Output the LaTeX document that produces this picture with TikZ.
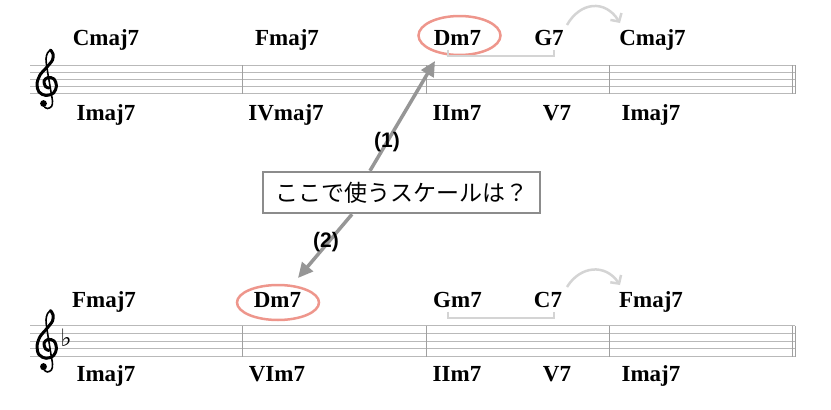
\documentclass[tikz,border=0pt]{standalone}
\usepackage{fontspec}
\setmainfont{Liberation Serif}
\newfontfamily\jpfont{Noto Sans CJK JP}
\newfontfamily\symfont{DejaVu Sans}
\newfontfamily\labfont{Liberation Sans}
\usetikzlibrary{arrows.meta,calc,shapes.geometric}
\definecolor{staffc}{RGB}{185,185,185}
\definecolor{barc}{RGB}{160,160,160}
\definecolor{arrc}{RGB}{150,150,150}
\definecolor{boxc}{RGB}{140,140,140}
\definecolor{ringc}{RGB}{238,150,140}
\definecolor{brc}{RGB}{212,212,212}
\begin{document}
\begin{tikzpicture}[x=1pt,y=-1pt,
  chord/.style={font=\fontsize{23}{23}\selectfont\bfseries, anchor=base, inner sep=0pt},
  staffline/.style={draw=staffc, line width=1pt},
  barline/.style={draw=barc, line width=1pt},
  ring/.style={draw=ringc, line width=2.5pt, ellipse},
  bracketline/.style={draw=brc, line width=2.5pt},
  resolve/.style={draw=brc, line width=2.5pt, -{Straight Barb[length=6pt,width=13pt]}},
  pointer/.style={draw=arrc, line width=3.5pt, -{Triangle[length=15pt,width=14pt]}},
  numlabel/.style={font=\labfont\fontsize{21}{21}\selectfont\bfseries, inner sep=0pt},
  qbox/.style={draw=boxc, line width=2.5pt, fill=white, minimum width=277pt, minimum height=41pt, inner sep=0pt, font=\jpfont\fontsize{23}{23}\selectfont},
  gclef/.pic={
    \draw[line width=3pt, line cap=round, line join=round] plot[smooth, tension=0.55] coordinates {
      (3.5,-36.6) (6,-32.6) (5.5,-26.6) (0,-19.6) (-7,-11.6) (-10,-2.6) (-8,5.4) (-1,8.9)
      (6.5,6.4) (9.5,-0.6) (7,-7.6) (1,-9.1) (-3,-5.6) (-1.5,-0.1) (2,1.4)};
    \draw[line width=1.6pt, line cap=round] plot[smooth, tension=0.55] coordinates {
      (3.5,-36.6) (0.5,-33.6) (-1,-27.6) (0,-18.6) (2,-6.6) (4,5.4) (5.5,14.4) (4.5,19.9) (0.5,21.9) (-2.5,20.4)};
    \fill (-3.5,16.9) circle[radius=3.4pt];
  }
]
\useasboundingbox (0,0) rectangle (831,410);

% ---- staves ----
\foreach \y in {65,72.2,79.4,86.6,93.8} \draw[staffline] (30,\y) -- (795,\y);
\foreach \y in {325.7,333.45,341.2,348.95,356.7} \draw[staffline] (30,\y) -- (795,\y);
\foreach \x in {242,426,609,792,795} {
  \draw[barline] (\x,65) -- (\x,93.8);
  \draw[barline] (\x,325.7) -- (\x,356.7);
}

% clefs and key signature
\pic at (47,86.6) {gclef};
\pic[yscale=1.05] at (47,348.95) {gclef};
\node[inner sep=0pt, font=\symfont\fontsize{24}{24}\selectfont] (flat) at (66,337.5) {♭};

% ---- top row ----
\node[chord] (c1) at (106,45) {Cmaj7};
\node[chord] (c2) at (287,45) {Fmaj7};
\node[chord] (c3) at (457.5,45) {Dm7};
\node[chord] (c4) at (549,45) {G7};
\node[chord] (c5) at (652.5,45) {Cmaj7};
\node[chord] (r1) at (106,120) {Imaj7};
\node[chord] (r2) at (286,120) {IVmaj7};
\node[chord] (r3) at (457,120) {IIm7};
\node[chord] (r4) at (557,120) {V7};
\node[chord] (r5) at (651,120) {Imaj7};

\node[ring, minimum width=82pt, minimum height=39pt, inner sep=0pt] (ringA) at (459.5,35.5) {};
\draw[bracketline] (448,49.5) -- (448,56) -- (554,56) -- (554,49.5);
\draw[resolve] (567,25) .. controls (580,2) and (605,-1) .. (620,23);

% ---- bottom row ----
\node[chord] (d1) at (104,307.3) {Fmaj7};
\node[chord] (d2) at (277.5,307.3) {Dm7};
\node[chord] (d3) at (457.5,307.3) {Gm7};
\node[chord] (d4) at (548,307.3) {C7};
\node[chord] (d5) at (651,307.3) {Fmaj7};
\node[chord] (s1) at (106,381.7) {Imaj7};
\node[chord] (s2) at (277,381.7) {VIm7};
\node[chord] (s3) at (457,381.7) {IIm7};
\node[chord] (s4) at (557,381.7) {V7};
\node[chord] (s5) at (651,381.7) {Imaj7};

\node[ring, minimum width=82pt, minimum height=35pt, inner sep=0pt] (ringB) at (278,302.5) {};
\draw[bracketline] (448,311.5) -- (448,318) -- (554,318) -- (554,311.5);
\draw[resolve] (567,287) .. controls (580,266) and (605,263) .. (620,285);

% ---- question box and pointers ----
\node[qbox] (q) at (401.5,192.5) {ここで使うスケールは？};
\coordinate (tipA) at (435,61);
\coordinate (tipB) at (298,278);
\coordinate (fromA) at (370,0);
\coordinate (fromB) at (352,0);
\draw[pointer] (q.north -| fromA) -- (tipA);
\draw[pointer] (q.south -| fromB) -- (tipB);
\node[numlabel] (n1) at (387,142) {(1)};
\node[numlabel] (n2) at (326,242) {(2)};
\end{tikzpicture}
\end{document}
